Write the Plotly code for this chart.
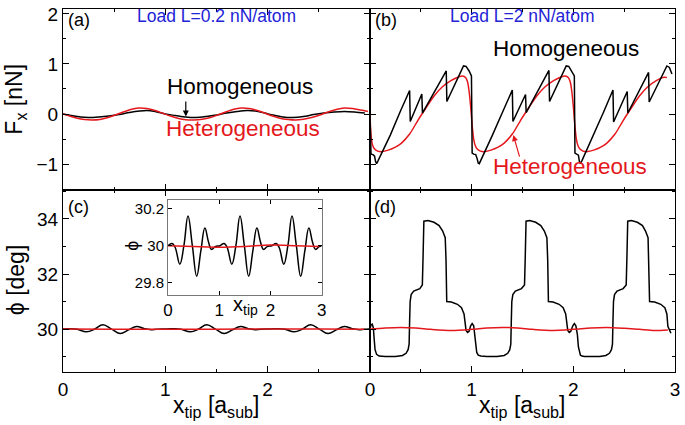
import plotly.graph_objects as go

# ---------------- data ----------------
# (a) low load, lateral force [nN]
a_hom_x = [0, 0.08, 0.17, 0.25, 0.35, 0.45, 0.55, 0.65, 0.75, 0.82, 0.9, 1.0, 1.1, 1.2, 1.3, 1.4, 1.5,
           1.6, 1.7, 1.8, 1.88, 1.97, 2.05, 2.15, 2.25, 2.35, 2.45, 2.55, 2.65, 2.75, 2.85, 2.95]
a_hom_y = [0, -0.03, -0.06, -0.07, -0.06, -0.04, -0.01, 0.03, 0.06, 0.07, 0.05, 0.0, -0.03, -0.06, -0.07, -0.05, -0.02,
           0.02, 0.05, 0.07, 0.06, 0.02, -0.02, -0.06, -0.07, -0.05, -0.01, 0.02, 0.04, 0.05, 0.04, 0.02]
a_het_x = [0, 0.07, 0.14, 0.21, 0.28, 0.36, 0.44, 0.51, 0.59, 0.66, 0.74, 0.82, 0.9, 0.97, 1.05, 1.13, 1.2, 1.28,
           1.36, 1.44, 1.51, 1.59, 1.66, 1.74, 1.82, 1.9, 1.97, 2.05, 2.12, 2.2, 2.27, 2.35, 2.43, 2.51, 2.59, 2.67,
           2.75, 2.83, 2.91, 2.98]
a_het_y = [0, -0.045, -0.085, -0.11, -0.12, -0.11, -0.07, -0.02, 0.04, 0.09, 0.12, 0.11, 0.07, 0.02, -0.04, -0.09,
           -0.115, -0.12, -0.105, -0.07, -0.02, 0.04, 0.09, 0.12, 0.11, 0.07, 0.02, -0.04, -0.085, -0.11, -0.12,
           -0.105, -0.07, -0.02, 0.04, 0.09, 0.12, 0.11, 0.08, 0.05]

# (b) high load, lateral force [nN]
b_hom_x = [0, 0.004, 0.01, 0.03, 0.045, 0.055, 0.065, 0.08, 0.2, 0.3, 0.39, 0.396, 0.51, 0.516, 0.75, 0.756,
           0.92, 0.945, 0.975, 0.998,
           1.005, 1.02, 1.04, 1.055, 1.065, 1.075, 1.09, 1.2, 1.3, 1.40, 1.406, 1.53, 1.536, 1.76, 1.766,
           1.93, 1.955, 1.985, 2.01,
           2.016, 2.03, 2.05, 2.06, 2.07, 2.085, 2.2, 2.3, 2.39, 2.396, 2.53, 2.536, 2.74, 2.746, 2.92, 2.945, 2.97]
b_hom_y = [0, -0.78, -0.8, -0.81, -0.84, -0.95, -0.99, -0.93, -0.42, 0.06, 0.47, -0.15, 0.40, 0.02, 0.86, 0.25,
           0.96, 0.95, 0.86, 0.76,
           -0.78, -0.8, -0.81, -0.9, -0.98, -0.99, -0.92, -0.44, 0.02, 0.48, -0.15, 0.39, 0.03, 0.87, 0.25,
           0.96, 0.95, 0.86, 0.76,
           -0.78, -0.8, -0.82, -0.95, -0.99, -0.93, -0.42, 0.05, 0.48, -0.16, 0.45, 0.02, 0.83, 0.24, 0.96, 0.93, 0.80]
b_het_x = [0, 0.005, 0.012, 0.025, 0.045, 0.075, 0.12, 0.18, 0.25, 0.31, 0.39, 0.47, 0.55, 0.63, 0.71, 0.8, 0.87,
           0.91, 0.94, 0.96, 0.975, 0.99, 1.0, 1.01, 1.02, 1.035, 1.055, 1.085, 1.13, 1.19, 1.26, 1.32, 1.40, 1.48,
           1.56, 1.64, 1.72, 1.81, 1.88, 1.92, 1.95, 1.97, 1.985, 2.0, 2.01, 2.02, 2.03, 2.045, 2.065, 2.095, 2.14,
           2.2, 2.27, 2.33, 2.41, 2.49, 2.57, 2.65, 2.73, 2.82, 2.88, 2.92]
b_het_y = [0, -0.25, -0.45, -0.62, -0.70, -0.74, -0.75, -0.72, -0.66, -0.58, -0.40, -0.13, 0.12, 0.36, 0.54, 0.67,
           0.74, 0.76, 0.73, 0.64, 0.45, 0.15, -0.1, -0.33, -0.5, -0.63, -0.70, -0.74, -0.75, -0.72, -0.66, -0.58,
           -0.40, -0.13, 0.12, 0.36, 0.54, 0.67, 0.74, 0.76, 0.73, 0.64, 0.45, 0.15, -0.1, -0.33, -0.5, -0.63, -0.70,
           -0.74, -0.75, -0.72, -0.66, -0.58, -0.40, -0.13, 0.12, 0.36, 0.54, 0.67, 0.73, 0.73]

# (c) low load, orientation angle [deg]
c_hom_x = [0, 0.08, 0.14, 0.23, 0.31, 0.39, 0.475, 0.56, 0.64, 0.72, 0.79, 0.85, 0.92,
           1.015, 1.095, 1.155, 1.245, 1.325, 1.405, 1.49, 1.575, 1.655, 1.735, 1.805, 1.865, 1.935,
           2.03, 2.11, 2.17, 2.26, 2.34, 2.42, 2.505, 2.59, 2.67, 2.75, 2.82, 2.88, 2.95, 3.0]
c_hom_y = [30.0, 30.012, 29.99, 29.90, 30.0, 30.16, 30.0, 29.835, 29.97, 30.095, 30.02, 29.98, 29.995,
           30.0, 30.012, 29.99, 29.90, 30.0, 30.16, 30.0, 29.835, 29.97, 30.095, 30.02, 29.98, 29.995,
           30.0, 30.012, 29.99, 29.90, 30.0, 30.16, 30.0, 29.835, 29.97, 30.095, 30.02, 29.98, 29.995, 30.0]
c_het_x = [0, 0.5, 1.0, 1.5, 2.0, 2.5, 2.95]
c_het_y = [30.0, 29.996, 29.992, 29.996, 30.004, 30.0, 29.996]

# (d) high load, orientation angle [deg]
d_hom_x = [0.0, 0.01, 0.022, 0.033, 0.042, 0.05, 0.065, 0.09, 0.15, 0.25, 0.32, 0.355, 0.375, 0.385, 0.39, 0.395,
           0.405, 0.43, 0.49, 0.515, 0.522, 0.53, 0.57, 0.63, 0.68, 0.715, 0.74, 0.748, 0.755, 0.8, 0.86, 0.9,
           0.925, 0.935, 0.945, 0.96, 0.975, 0.99, 1.005, 1.02, 1.03, 1.04, 1.05, 1.065, 1.09, 1.15, 1.25, 1.32,
           1.355, 1.375, 1.385, 1.39, 1.395, 1.405, 1.43, 1.49, 1.52, 1.527, 1.535, 1.57, 1.63, 1.68, 1.715, 1.74,
           1.748, 1.755, 1.8, 1.86, 1.9, 1.925, 1.935, 1.945, 1.96, 1.975, 1.995, 2.01, 2.025, 2.04, 2.05, 2.06,
           2.07, 2.085, 2.11, 2.17, 2.26, 2.32, 2.355, 2.375, 2.385, 2.39, 2.395, 2.405, 2.43, 2.49, 2.52, 2.527,
           2.535, 2.57, 2.63, 2.68, 2.71, 2.735, 2.742, 2.75, 2.8, 2.86, 2.9, 2.92, 2.93, 2.945, 2.96]
d_hom_y = [30.0, 30.15, 30.18, 30.05, 29.6, 29.25, 29.08, 29.02, 29.0, 29.0, 29.04, 29.12, 29.25, 29.45, 30.3, 31.0,
           31.25, 31.38, 31.47, 31.6, 32.6, 33.92, 33.94, 33.88, 33.76, 33.56, 33.32, 32.5, 31.0, 30.98, 30.9, 30.78,
           30.55, 30.2, 29.95, 29.88, 29.92, 30.12, 30.2, 30.12, 29.8, 29.35, 29.15, 29.05, 29.02, 29.0, 29.0, 29.04,
           29.12, 29.25, 29.45, 30.3, 31.0, 31.25, 31.38, 31.47, 31.6, 32.6, 33.92, 33.94, 33.88, 33.76, 33.56, 33.32,
           32.5, 31.0, 30.98, 30.9, 30.78, 30.55, 30.2, 29.95, 29.88, 29.92, 30.12, 30.2, 30.12, 29.8, 29.35, 29.15,
           29.05, 29.02, 29.0, 29.0, 29.0, 29.04, 29.12, 29.25, 29.45, 30.3, 31.0, 31.25, 31.38, 31.47, 31.6, 32.6,
           33.92, 33.94, 33.88, 33.76, 33.56, 33.32, 32.5, 31.0, 30.98, 30.9, 30.78, 30.55, 30.1, 29.95, 29.85]
d_het_x = [0, 0.15, 0.3, 0.45, 0.6, 0.8, 1.0, 1.15, 1.3, 1.45, 1.6, 1.8, 2.0, 2.17, 2.33, 2.5, 2.65, 2.8, 2.93]
d_het_y = [30.0, 30.04, 30.06, 30.04, 29.99, 29.95, 29.99, 30.04, 30.06, 30.04, 29.99, 29.95, 29.99, 30.04, 30.06,
           30.03, 29.99, 29.95, 29.97]

x_ticks = [0, 1, 2, 3]
x_ticktext_left = ["0", "1", "2", ""]
x_ticktext_right = ["0", "1", "2", "3"]
inset_y_ticks = [29.8, 30.0, 30.2]
inset_y_ticktext = ["29.8", "30", "30.2"]

BLACK = "black"
RED = "rgb(228,24,28)"
BLUE = "rgb(35,35,215)"
FONT = "Liberation Sans, Arial, Helvetica, sans-serif"

fig = go.Figure()

def add(x, y, color, xa, ya, shape="linear", w=1.5, smooth=0.8):
    fig.add_trace(go.Scatter(x=x, y=y, mode="lines", xaxis=xa, yaxis=ya, showlegend=False,
                             line=dict(color=color, width=w, shape=shape,
                                       smoothing=smooth if shape == "spline" else None),
                             hoverinfo="skip"))

add(a_hom_x, a_hom_y, BLACK, "x", "y", "spline")
add(a_het_x, a_het_y, RED, "x", "y", "spline")
add(b_het_x, b_het_y, RED, "x2", "y2", "spline")
add(b_hom_x, b_hom_y, BLACK, "x2", "y2")
add(c_hom_x, c_hom_y, BLACK, "x3", "y3", "spline", smooth=1.2)
add(c_het_x, c_het_y, RED, "x3", "y3", "spline")
add(d_hom_x, d_hom_y, BLACK, "x4", "y4")
add(d_het_x, d_het_y, RED, "x4", "y4", "spline")
add(c_hom_x, c_hom_y, BLACK, "x5", "y5", "spline", smooth=1.2)
add(c_het_x, c_het_y, RED, "x5", "y5", "spline")

XS = 0.5016
YS = 0.5027

def axis(**kw):
    d = dict(showline=True, linecolor="black", linewidth=1, mirror="allticks", ticks="inside", ticklen=6,
             tickwidth=1, tickcolor="black", showgrid=False, zeroline=False, ticklabeloverflow="allow",
             tickfont=dict(size=19, color="black", family=FONT))
    d.update(kw)
    return d

minor_x = dict(ticks="inside", ticklen=3, tickcolor="black", tickmode="linear", tick0=0, dtick=0.5)

fig.update_layout(
    width=685, height=425,
    margin=dict(l=63, r=10, t=4, b=53),
    paper_bgcolor="white", plot_bgcolor="white",
    font=dict(family=FONT, color="black"),
    xaxis=axis(domain=[0, XS], range=[0, 3], anchor="y", tickmode="array", tickvals=x_ticks,
               showticklabels=False, minor=minor_x),
    xaxis2=axis(domain=[XS, 1], range=[0, 3], anchor="y2", tickmode="array", tickvals=x_ticks,
                showticklabels=False, minor=minor_x),
    xaxis3=axis(domain=[0, XS], range=[0, 3], anchor="y3", tickmode="array", tickvals=x_ticks,
                ticktext=x_ticktext_left, minor=minor_x),
    xaxis4=axis(domain=[XS, 1], range=[0, 3], anchor="y4", tickmode="array", tickvals=x_ticks,
                ticktext=x_ticktext_right, minor=minor_x),
    yaxis=axis(domain=[YS, 1], range=[-1.507, 2.097], anchor="x", tickmode="linear", tick0=0, dtick=1,
               minor=dict(ticks="inside", ticklen=3, tickcolor="black", tickmode="linear", tick0=0, dtick=0.5)),
    yaxis2=axis(domain=[YS, 1], range=[-1.507, 2.097], anchor="x2", tickmode="linear", tick0=0, dtick=1,
                showticklabels=False,
                minor=dict(ticks="inside", ticklen=3, tickcolor="black", tickmode="linear", tick0=0, dtick=0.5)),
    yaxis3=axis(domain=[0, YS], range=[28.44, 35.07], anchor="x3", tickmode="linear", tick0=30, dtick=2,
                minor=dict(ticks="inside", ticklen=3, tickcolor="black", tickmode="linear", tick0=29, dtick=1)),
    yaxis4=axis(domain=[0, YS], range=[28.44, 35.07], anchor="x4", tickmode="linear", tick0=30, dtick=2,
                showticklabels=False,
                minor=dict(ticks="inside", ticklen=3, tickcolor="black", tickmode="linear", tick0=29, dtick=1)),
    xaxis5=axis(domain=[0.1716, 0.4227], range=[0, 3], anchor="y5", tickmode="array", tickvals=x_ticks,
                linecolor="rgb(120,120,120)", ticklen=4, tickfont=dict(size=17, color="black", family=FONT)),
    yaxis5=axis(domain=[0.212, 0.4728], range=[29.733, 30.245], anchor="x5", tickmode="array",
                tickvals=inset_y_ticks, ticktext=inset_y_ticktext,
                linecolor="rgb(120,120,120)", ticklen=4, tickfont=dict(size=15, color="black", family=FONT)),
)

ann = []
def txt(x, y, s, size, color="black", xref="paper", yref="paper", angle=0, **kw):
    ann.append(dict(x=x, y=y, xref=xref, yref=yref, text=s, showarrow=False, textangle=angle,
                    font=dict(size=size, color=color, family=FONT), xanchor="center", yanchor="middle", **kw))

# panel labels
txt(0.16, 1.88, "(a)", 18, xref="x", yref="y")
txt(0.16, 1.88, "(b)", 18, xref="x2", yref="y2")
txt(0.15, 34.45, "(c)", 18, xref="x3", yref="y3")
txt(0.15, 34.45, "(d)", 18, xref="x4", yref="y4")
txt(1.5, 1.95, "Load L=0.2 nN/atom", 17.5, BLUE, xref="x", yref="y")
txt(1.5, 1.95, "Load L=2 nN/atom", 17.5, BLUE, xref="x2", yref="y2")
txt(1.73, 0.55, "Homogeneous", 22.5, xref="x", yref="y")
txt(1.76, -0.29, "Heterogeneous", 22.5, RED, xref="x", yref="y")
txt(1.93, 1.30, "Homogeneous", 22.5, xref="x2", yref="y2")
txt(1.97, -1.05, "Heterogeneous", 22.5, RED, xref="x2", yref="y2")
# axis titles
txt(-0.077, 0.7527, "F<sub>x</sub> [nN]", 23, angle=-90)
txt(-0.077, 0.2527, "ϕ [deg]", 23, angle=-90)
txt(0.2508, -0.095, "x<sub>tip</sub> [a<sub>sub</sub>]", 23)
txt(0.7508, -0.095, "x<sub>tip</sub> [a<sub>sub</sub>]", 23)
txt(0.1127, 0.3478, "ϕ", 18, angle=-90)
txt(0.2974, 0.182, "x<sub>tip</sub>", 20)

# arrows
ann.append(dict(x=1.2, y=-0.05, ax=1.2, ay=0.28, xref="x", yref="y", axref="x", ayref="y", showarrow=True,
                arrowhead=2, arrowsize=1, arrowwidth=1.2, arrowcolor="black", text=""))
ann.append(dict(x=1.41, y=-0.42, ax=1.475, ay=-0.88, xref="x2", yref="y2", axref="x2", ayref="y2", showarrow=True,
                arrowhead=2, arrowsize=1, arrowwidth=1.2, arrowcolor=RED, text=""))
fig.update_layout(annotations=ann)

fig.write_html("out.html", config={"displayModeBar": False},
               post_script="document.body.style.margin='0px';document.body.style.overflow='hidden';")
